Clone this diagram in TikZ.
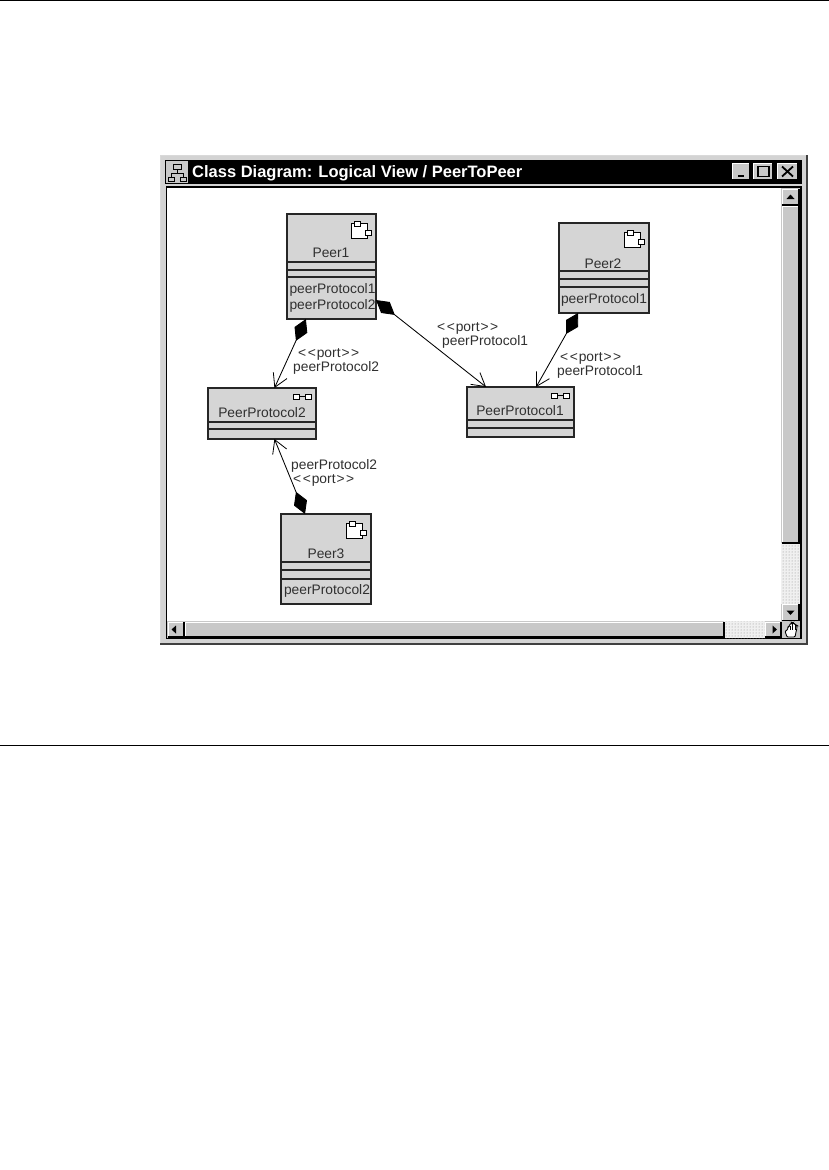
\documentclass[tikz,border=0pt]{standalone}
\usepackage{fontspec}
\setmainfont{Liberation Sans}
\usetikzlibrary{arrows.meta,calc,patterns}
\definecolor{winface}{HTML}{C8C8C8}
\definecolor{boxfill}{HTML}{D5D5D5}
\definecolor{inktext}{HTML}{303030}
\definecolor{frameedge}{HTML}{262626}
\newcommand{\portlabel}{<\kern1.5pt<\kern1pt port\kern1pt>\kern1.5pt>}
\tikzset{
  classbox/.style={draw=frameedge,line width=1.05pt,fill=boxfill,rectangle,inner sep=0pt,outer sep=0pt},
  divider/.style={draw=frameedge,line width=1.2pt},
  iconpart/.style={draw=black,line width=1pt,fill=white},
  small/.style={font=\fontsize{13.8}{13.8}\selectfont,text=inktext,inner sep=0pt,anchor=base},
  smallleft/.style={small,anchor=base west},
  composes/.style={draw=black,line width=0.85pt,{Diamond[length=24pt,width=14pt,fill=black]}-{Straight Barb[length=13pt,width=15pt,line width=0.8pt]}},
}
\newcommand{\peerglyph}[1]{%
  \path[iconpart] ($(#1.north east)+(-25,9)$) rectangle ($(#1.north east)+(-9,24)$);
  \path[iconpart] ($(#1.north east)+(-22,7)$) rectangle ($(#1.north east)+(-16,12)$);
  \path[iconpart] ($(#1.north east)+(-11,16)$) rectangle ($(#1.north east)+(-5,21)$);
}
\newcommand{\portglyph}[1]{%
  \draw[black,line width=0.9pt] ($(#1.north east)+(-17,8.5)$) -- ($(#1.north east)+(-11,8.5)$);
  \path[iconpart,line width=0.9pt] ($(#1.north east)+(-23,6)$) rectangle ($(#1.north east)+(-17,11)$);
  \path[iconpart,line width=0.9pt] ($(#1.north east)+(-11,6)$) rectangle ($(#1.north east)+(-5,11)$);
}
\newcommand{\raised}[4]{%
  \fill[winface] (#1,#2) rectangle (#3,#4);
  \draw[white,line width=1pt] (#1,#4) -- (#1,#2) -- (#3,#2);
  \draw[black,line width=1.2pt] (#1,#4) -- (#3,#4) -- (#3,#2);
}
\begin{document}
\begin{tikzpicture}[x=1pt,y=-1pt]
\useasboundingbox (0,0) rectangle (829,1170);
\fill[white] (0,0) rectangle (829,1170);
% page rules
\draw[black,line width=1pt] (0,0.5) -- (829,0.5);
\draw[black,line width=1pt] (0,745) -- (829,745);
% window frame
\fill[winface!80!white] (160,155) rectangle (807,644);
\draw[white!85!black,line width=1pt] (160.5,644) -- (160.5,155.5) -- (807,155.5);
\draw[black!75,line width=1.4pt] (160,644) -- (807,644) -- (807,155);
% title bar
\fill[black] (165,160) rectangle (802,184);
\fill[winface] (166,161) rectangle (188,183);
\draw[black,line width=1pt] (173,164) rectangle (181,169);
\draw[black,line width=1pt] (177,169) -- (177,173) (171,177) -- (171,173) -- (183,173) -- (183,177);
\draw[black,line width=1pt] (168,177) rectangle (174,181);
\draw[black,line width=1pt] (180,177) rectangle (186,181);
\node[font=\bfseries\fontsize{16.5}{16.5}\selectfont,text=white,inner sep=0pt,anchor=base west] (title) at (192,177) {Class Diagram: Logical View / PeerToPeer};
% title buttons
\raised{732}{163}{750}{180}
\fill[black] (738,175) rectangle (744,177);
\raised{753}{163}{773}{180}
\draw[black,line width=1.2pt] (758,166.5) rectangle (769,176.5);
\raised{777}{163}{798}{180}
\draw[black,line width=1.8pt] (782,166.5) -- (793,176.5) (793,166.5) -- (782,176.5);
% inner frame and canvas
\fill[white] (167,188) rectangle (781,621);
\draw[black,line width=1.3pt] (166.5,638) -- (166.5,187) -- (801,187) -- (801,638) -- cycle;
% vertical scrollbar
\fill[winface] (781,188) rectangle (800,621);
\fill[black!6] (781,543) rectangle (800,604);
\fill[pattern=dots,pattern color=black!45] (781,543) rectangle (800,604);
\raised{782}{189}{799}{205}
\fill[black] (790.5,194.5) -- (786.5,199) -- (794.5,199) -- cycle;
\raised{782}{206}{799}{543}
\raised{782}{604}{799}{621}
\fill[black] (790.5,615) -- (786.5,610.5) -- (794.5,610.5) -- cycle;
% horizontal scrollbar
\fill[winface] (167,621) rectangle (782,638);
\fill[black!6] (724,621) rectangle (765,638);
\fill[pattern=dots,pattern color=black!45] (724,621) rectangle (765,638);
\raised{168}{622}{184}{637}
\fill[black] (171.5,629.5) -- (176,625.5) -- (176,633.5) -- cycle;
\raised{185}{622}{724}{637}
\raised{765}{622}{781}{637}
\fill[black] (777,629.5) -- (772.5,625.5) -- (772.5,633.5) -- cycle;
% hand
\fill[winface] (782,621) rectangle (800,638);
\draw[black,fill=white,line width=0.9pt,rounded corners=1pt]
  (787,637) -- (785,631) -- (787.5,630) -- (788,626.5) -- (789.5,626.5) -- (790,623.5) -- (792,623.5) -- (792.5,623) -- (794,623.5) -- (795,624.5) -- (796.5,625) -- (797,628) -- (796,632) -- (795,637) -- cycle;
\draw[black,line width=0.7pt] (790,626) -- (790,630) (792.5,624) -- (792.5,630) (795,625) -- (795,630);
% class boxes
\node[classbox,minimum width=89pt,minimum height=105pt] (peer1) at (331.5,266.5) {};
\node[classbox,minimum width=90pt,minimum height=90pt] (peer2) at (604,268) {};
\node[classbox,minimum width=107pt,minimum height=50pt] (proto1) at (520.5,412) {};
\node[classbox,minimum width=108pt,minimum height=51pt] (proto2) at (262,413.5) {};
\node[classbox,minimum width=90pt,minimum height=90pt] (peer3) at (326,559) {};
% compartments
\draw[divider] (peer1.west |- 0,262) -- (peer1.east |- 0,262) (peer1.west |- 0,270) -- (peer1.east |- 0,270) (peer1.west |- 0,277) -- (peer1.east |- 0,277);
\draw[divider] (peer2.west |- 0,271) -- (peer2.east |- 0,271) (peer2.west |- 0,279) -- (peer2.east |- 0,279) (peer2.west |- 0,287) -- (peer2.east |- 0,287);
\draw[divider] (peer3.west |- 0,562) -- (peer3.east |- 0,562) (peer3.west |- 0,570) -- (peer3.east |- 0,570) (peer3.west |- 0,579) -- (peer3.east |- 0,579);
\draw[divider] (proto1.west |- 0,420) -- (proto1.east |- 0,420) (proto1.west |- 0,428) -- (proto1.east |- 0,428);
\draw[divider] (proto2.west |- 0,422) -- (proto2.east |- 0,422) (proto2.west |- 0,429) -- (proto2.east |- 0,429);
% glyphs
\peerglyph{peer1}
\peerglyph{peer2}
\peerglyph{peer3}
\portglyph{proto1}
\portglyph{proto2}
% box texts
\node[small] (n1) at (331,257) {Peer1};
\node[small] (a11) at (332.5,293) {peerProtocol1};
\node[small] (a12) at (332.5,309) {peerProtocol2};
\node[small] (n2) at (603,268) {Peer2};
\node[small] (a21) at (604,303) {peerProtocol1};
\node[small] (n3) at (326,558) {Peer3};
\node[small] (a31) at (327,594) {peerProtocol2};
\node[small] (np1) at (520,415) {PeerProtocol1};
\node[small] (np2) at (262,417) {PeerProtocol2};
% connectors
\draw[composes] (peer1.244) -- (proto2.64.8);
\draw[composes] (peer1.-37.8) -- (proto1.144);
\draw[composes] (peer2.240) -- (proto1.58.2);
\draw[composes] (peer3.115) -- (proto2.-64.8);
% connector labels
\node[smallleft] (l1a) at (298,357) {\portlabel};
\node[smallleft] (l1b) at (293,371) {peerProtocol2};
\node[smallleft] (l2a) at (437,331) {\portlabel};
\node[smallleft] (l2b) at (442,345) {peerProtocol1};
\node[smallleft] (l3a) at (560,361) {\portlabel};
\node[smallleft] (l3b) at (557,375) {peerProtocol1};
\node[smallleft] (l4a) at (291,469) {peerProtocol2};
\node[smallleft] (l4b) at (293,483) {\portlabel};
\end{tikzpicture}
\end{document}
